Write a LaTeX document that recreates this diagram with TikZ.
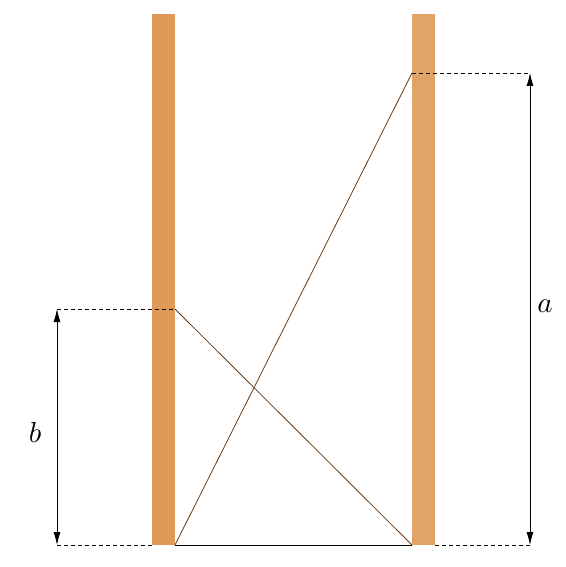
\documentclass[tikz,border=0pt]{standalone}
\usetikzlibrary{arrows.meta}
\definecolor{poleA}{HTML}{DF9A5A}
\definecolor{poleB}{HTML}{E0A468}
\definecolor{rope}{HTML}{6B3A12}
\begin{document}
\begin{tikzpicture}[x=1pt,y=-1pt,
  pole/.style={inner sep=0pt, minimum width=23pt, minimum height=531pt, anchor=north},
  dimline/.style={dashed, line width=0.8pt, dash pattern=on 4pt off 3pt},
  ropeline/.style={rope, line width=0.8pt},
  dimarrow/.style={line width=0.8pt, {Latex[length=13pt,width=7pt]}-{Latex[length=13pt,width=7pt]}},
  lab/.style={inner sep=0pt}]
\useasboundingbox (0,0) rectangle (565,567);
\node[pole, fill=poleA] (L) at (163.5,14) {};
\node[pole, fill=poleB] (R) at (423.5,14) {};
\coordinate (Lb) at (175,309);
\coordinate (Lbot) at (175,545);
\coordinate (Rt) at (412,73);
\coordinate (Rbot) at (412,545);
\coordinate (bl1) at (57,309);
\coordinate (bl2) at (57,545);
\coordinate (ar1) at (530,73);
\coordinate (ar2) at (530,545);
\draw[dimline] (bl1) -- (Lb);
\draw[dimline] (bl2) -- (152,545);
\draw[dimline] (Rt) -- (ar1);
\draw[dimline] (435,545) -- (ar2);
\draw[line width=0.8pt] (Lbot) -- (Rbot);
\draw[ropeline] (Lb) -- (Rbot);
\draw[ropeline] (Lbot) -- (Rt);
\draw[dimarrow] (bl1) -- (bl2);
\draw[dimarrow] (ar1) -- (ar2);
\node[lab] (b) at (35,432) {\scalebox{2.9}{$b$}};
\node[lab] (a) at (545,306) {\scalebox{2.9}{$a$}};
\end{tikzpicture}
\end{document}
